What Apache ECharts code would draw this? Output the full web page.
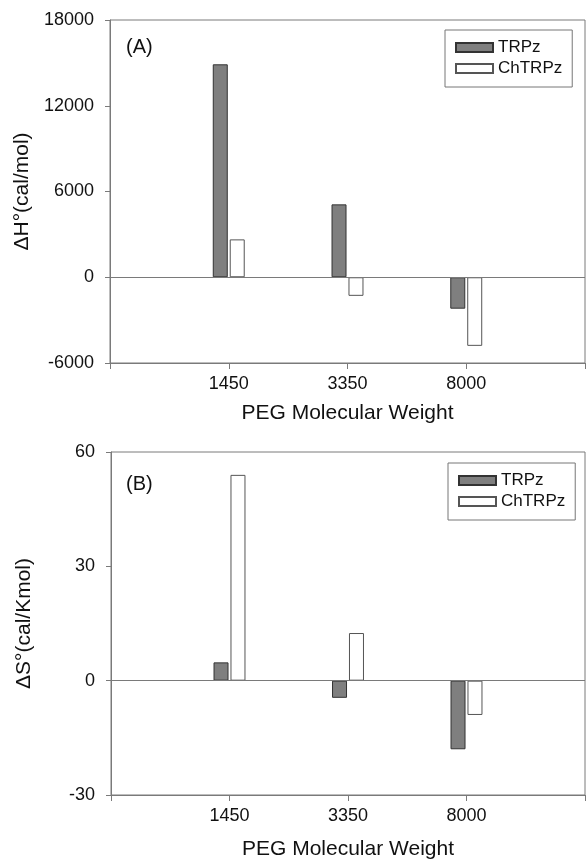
<!DOCTYPE html>
<html>
<head>
<meta charset="utf-8">
<script src="https://cdn.jsdelivr.net/npm/echarts@6/dist/echarts.min.js"></script>
<style>
  html, body { margin: 0; padding: 0; background: #fff; }
  #chart { width: 588px; height: 861px; }
</style>
</head>
<body>
<div id="chart"></div>
<script>
// PEG molecular weights (empty slots pad the axis on both sides)
const categories = ['1450', '3350', '8000'];
const seriesNames = ['TRPz', 'ChTRPz'];

// panel A: enthalpy, cal/mol
const dhTRPz = [14900, 5100, -2200];
const dhChTRPz = [2650, -1300, -4800];
const dhTicks = { min: -6000, max: 18000, interval: 6000 };

// panel B: entropy, cal/Kmol
const dsTRPz = [4.8, -4.5, -18];
const dsChTRPz = [54, 12.5, -9];
const dsTicks = { min: -30, max: 60, interval: 30 };

const font = 'Liberation Sans, Arial, sans-serif';
const axisGray = '#7a7a7a';
const textColor = '#111';

const padded = arr => ['-', ...arr, '-'];
const axisCats = ['', ...categories, ''];

const makeX = (idx, gap) => ({
  type: 'category',
  gridIndex: idx,
  data: axisCats,
  boundaryGap: false,
  name: 'PEG Molecular Weight',
  nameLocation: 'middle',
  nameGap: gap,
  nameTextStyle: { fontFamily: font, fontSize: 21, color: textColor },
  axisLine: { onZero: false, lineStyle: { color: axisGray, width: 1 } },
  axisTick: { show: true, length: 6, interval: 0, lineStyle: { color: axisGray } },
  axisLabel: { interval: 0, margin: 12, fontFamily: font, fontSize: 18, color: textColor },
  splitLine: { show: false },
});

const makeY = (idx, name, t) => ({
  type: 'value',
  gridIndex: idx,
  min: t.min,
  max: t.max,
  interval: t.interval,
  name: name,
  nameLocation: 'middle',
  nameGap: 76,
  nameTextStyle: { fontFamily: font, fontSize: 21, color: textColor },
  axisLine: { show: true, lineStyle: { color: axisGray, width: 1 } },
  axisTick: { show: true, length: 5, lineStyle: { color: axisGray } },
  axisLabel: { margin: 16, fontFamily: font, fontSize: 18, color: textColor, formatter: v => String(v) },
  splitLine: { show: false },
});

const zeroLine = {
  silent: true,
  symbol: 'none',
  label: { show: false },
  lineStyle: { color: axisGray, type: 'solid', width: 1 },
  data: [{ yAxis: 0 }],
};

const makeBars = (idx, a, b) => [
  {
    name: seriesNames[0],
    type: 'bar',
    xAxisIndex: idx,
    yAxisIndex: idx,
    data: padded(a),
    barWidth: 15,
    barGap: '13%',
    itemStyle: { color: '#7f7f7f', borderColor: '#333333', borderWidth: 1 },
    markLine: zeroLine,
  },
  {
    name: seriesNames[1],
    type: 'bar',
    xAxisIndex: idx,
    yAxisIndex: idx,
    data: padded(b),
    barWidth: 15,
    itemStyle: { color: '#ffffff', borderColor: '#555555', borderWidth: 1 },
  },
];

const makeLegend = (top, left) => ({
  orient: 'vertical',
  left: left,
  top: top,
  data: seriesNames,
  itemWidth: 37,
  itemHeight: 9,
  itemGap: 4,
  padding: [9, 10, 10, 10],
  borderColor: '#777',
  borderWidth: 1,
  icon: 'rect',
  textStyle: { fontFamily: font, fontSize: 17, color: textColor },
});

const chart = echarts.init(document.getElementById('chart'), null, { renderer: 'canvas' });

const panelLabel = { fontFamily: font, fontSize: 20, fontWeight: 'normal', color: textColor };

const option = {
  backgroundColor: '#fff',
  animation: false,
  title: [
    { text: '(A)', left: 121, top: 32, textStyle: panelLabel },
    { text: '(B)', left: 121, top: 469, textStyle: panelLabel },
  ],
  legend: [makeLegend(30, 445), makeLegend(463, 448)],
  grid: [
    { left: 110, top: 20, width: 477, height: 343, show: true, borderColor: axisGray, borderWidth: 1, backgroundColor: 'transparent' },
    { left: 111, top: 452, width: 476, height: 345, show: true, borderColor: axisGray, borderWidth: 1, backgroundColor: 'transparent' },
  ],
  xAxis: [makeX(0, 40), makeX(1, 44)],
  yAxis: [makeY(0, 'ΔH°(cal/mol)', dhTicks), makeY(1, 'ΔS°(cal/Kmol)', dsTicks)],
  series: [...makeBars(0, dhTRPz, dhChTRPz), ...makeBars(1, dsTRPz, dsChTRPz)],
};

chart.setOption(option);
</script>
</body>
</html>
